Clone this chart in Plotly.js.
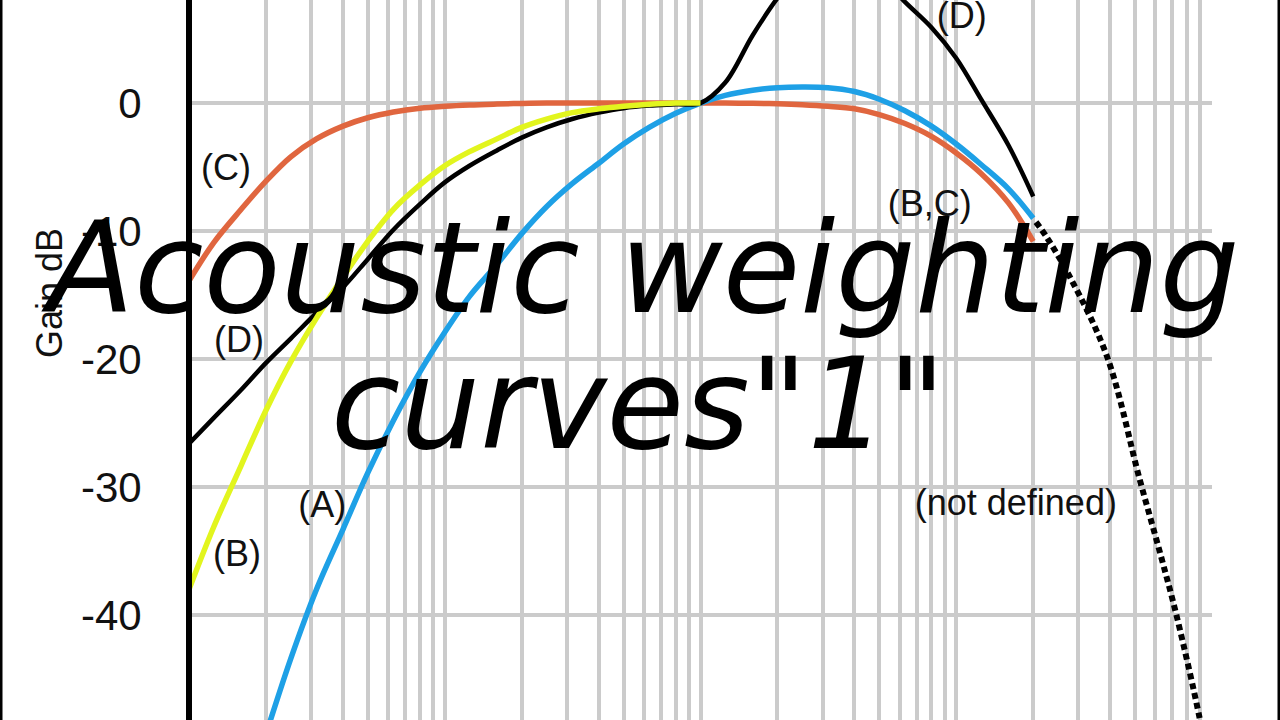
<!DOCTYPE html>
<html>
<head>
<meta charset="utf-8">
<script src="https://cdn.plot.ly/plotly-3.0.1.min.js"></script>
<style>
html,body{margin:0;padding:0;background:#fff;}
#chart{width:1280px;height:720px;}
</style>
</head>
<body>
<div id="chart"></div>
<script>
// ---- data (1/3-octave frequencies in Hz, gain in dB) ----
const freq = [10, 12.5, 16, 20, 25, 31.5, 40, 50, 63, 80, 100, 125, 160, 200, 250, 315, 400, 500, 630, 800,
              1000, 1250, 1600, 2000, 2500, 3150, 4000, 5000, 6300, 8000, 10000, 12500, 16000, 20000];

// (A) weighting: below ~16 Hz it is off the bottom of the picture
const gainA = [null, null, -55.4, -49.3, -43.4, -38.0, -33.3, -28.9, -24.8, -21.0, -17.9, -15.1, -12.6, -10.2, -8.1, -6.3, -4.7, -3.2, -1.9, -0.8,
               0, 0.6, 1.0, 1.2, 1.25, 1.2, 0.9, 0.3, -0.6, -1.8, -3.2, -4.8, -6.7, -9.0];
// (B) weighting: visible up to 1 kHz (coincides with C above)
const gainB = [-38.0, -33.1, -28.3, -24.0, -20.2, -16.8, -13.6, -10.8, -8.3, -6.4, -4.9, -3.8, -2.8, -1.9, -1.25, -0.75, -0.45, -0.25, -0.1, 0,
               0, null, null, null, null, null, null, null, null, null, null, null, null, null];
// (C) weighting (also B above 1 kHz)
const gainC = [-13.9, -10.9, -8.3, -6.1, -4.2, -2.8, -1.8, -1.15, -0.7, -0.4, -0.25, -0.15, -0.08, -0.03, 0, 0, 0, 0, 0, 0,
               0, 0, -0.02, -0.06, -0.13, -0.25, -0.45, -0.9, -1.6, -2.6, -3.9, -5.5, -7.8, -10.8];
// (D) weighting
const gainD = [-26.6, -24.6, -22.4, -20.3, -18.4, -16.4, -14.4, -12.2, -9.9, -7.9, -6.2, -4.9, -3.7, -2.7, -1.9, -1.25, -0.75, -0.4, -0.2, -0.1,
               0, 1.6, 5.3, 8.2, 10.4, 11.4, 11.2, 10.0, 7.9, 5.9, 3.5, 0.3, -3.3, -7.3];

// extension beyond 20 kHz ("not defined")
const freqN = [20500, 22440, 27850, 38860, 52300, 63750, 72990, 89340, 95000];
const gainN = [-9.3, -10.4, -13.6, -19.8, -29.5, -35.7, -40.2, -48.0, -51.0];

// curve labels
const labelText = ["(C)", "(D)", "(A)", "(B)", "(D)", "(B,C)", "(not defined)"];
const labelFreq = [13.95, 15.7, 33.2, 15.4, 10510, 7880, 17100];
const labelGain = [-5.3, -18.75, -31.6, -35.5, 6.6, -8.1, -31.5];

// y tick labels
const yTickVals = [-40, -30, -20, -10, 0, 10];
const yTickText = ["-40", "-30", "-20", "-10", "0", "10"];
const yTitle = "Gain dB";

const titleLine1 = "Acoustic weighting";
const titleLine2 = "curves\"1\"";

// ---- styles ----
const GRID = "#cbcbcb";
const SANS = "Liberation Sans, Arial, Helvetica, sans-serif";

function curve(x, y, color, width, dash) {
  return {
    x: x, y: y, type: "scatter", mode: "lines", connectgaps: false,
    line: {color: color, width: width, shape: "spline", smoothing: 1, dash: dash || "solid"},
    hoverinfo: "skip"
  };
}

const traces = [
  curve(freq, gainC, "#E0663F", 5.5),
  curve(freq, gainA, "#1EA0E6", 5.5),
  curve(freq, gainD, "#000000", 4.5),
  curve(freq, gainB, "#E2F51E", 5.5),
  curve(freqN, gainN, "#000000", 6, "6px,4px"),
  {
    x: labelFreq, y: labelGain, text: labelText, type: "scatter", mode: "text",
    textposition: "middle center", cliponaxis: false,
    textfont: {family: SANS, size: 36, color: "#111"},
    hoverinfo: "skip"
  }
];

const L = 192, R = 68;
const plotW = 1280 - L - R;
function px2paperX(p) { return (p - L) / plotW; }
function px2paperY(p) { return 1 - p / 720; }

const layout = {
  width: 1280, height: 720,
  margin: {l: L, r: R, t: 0, b: 0, pad: 0},
  paper_bgcolor: "#ffffff", plot_bgcolor: "#ffffff",
  showlegend: false,
  xaxis: {
    type: "log", range: [1 + 3 / 256, 5], dtick: "D1",
    showgrid: true, gridcolor: GRID, gridwidth: 4,
    showline: false, zeroline: false, ticks: "", showticklabels: false,
    fixedrange: true
  },
  yaxis: {
    range: [-48.2, 8.05], tickmode: "array", tickvals: yTickVals, ticktext: yTickText,
    showgrid: true, gridcolor: GRID, gridwidth: 3.5,
    showline: true, linecolor: "#000", linewidth: 6,
    zeroline: false, ticks: "", ticklabelstandoff: 36,
    tickfont: {family: SANS, size: 42, color: "#111"},
    automargin: false, fixedrange: true
  },
  annotations: [
    {text: yTitle, xref: "paper", yref: "paper", x: px2paperX(49), y: px2paperY(293),
     textangle: -90, xanchor: "center", yanchor: "middle", showarrow: false,
     font: {family: SANS, size: 36, color: "#111"}},
    {text: "10", xref: "paper", yref: "paper", x: px2paperX(154), y: px2paperY(-15),
     xanchor: "right", yanchor: "middle", showarrow: false,
     font: {family: SANS, size: 42, color: "#111"}},
    {text: titleLine1, xref: "paper", yref: "paper", x: px2paperX(640), y: px2paperY(268),
     xanchor: "center", yanchor: "middle", showarrow: false,
     font: {family: "DejaVu Sans", size: 126, color: "#000", style: "italic"}},
    {text: titleLine2, xref: "paper", yref: "paper", x: px2paperX(638), y: px2paperY(404),
     xanchor: "center", yanchor: "middle", showarrow: false,
     font: {family: "DejaVu Sans", size: 126, color: "#000", style: "italic"}}
  ],
  shapes: [
    {type: "line", xref: "paper", yref: "paper", x0: px2paperX(1), x1: px2paperX(1), y0: 0, y1: 1,
     line: {color: "#000", width: 3}},
    {type: "line", xref: "paper", yref: "paper", x0: px2paperX(1279), x1: px2paperX(1279), y0: 0, y1: 1,
     line: {color: "#000", width: 3}}
  ]
};

Plotly.newPlot("chart", traces, layout, {displayModeBar: false, staticPlot: true});
</script>
</body>
</html>
